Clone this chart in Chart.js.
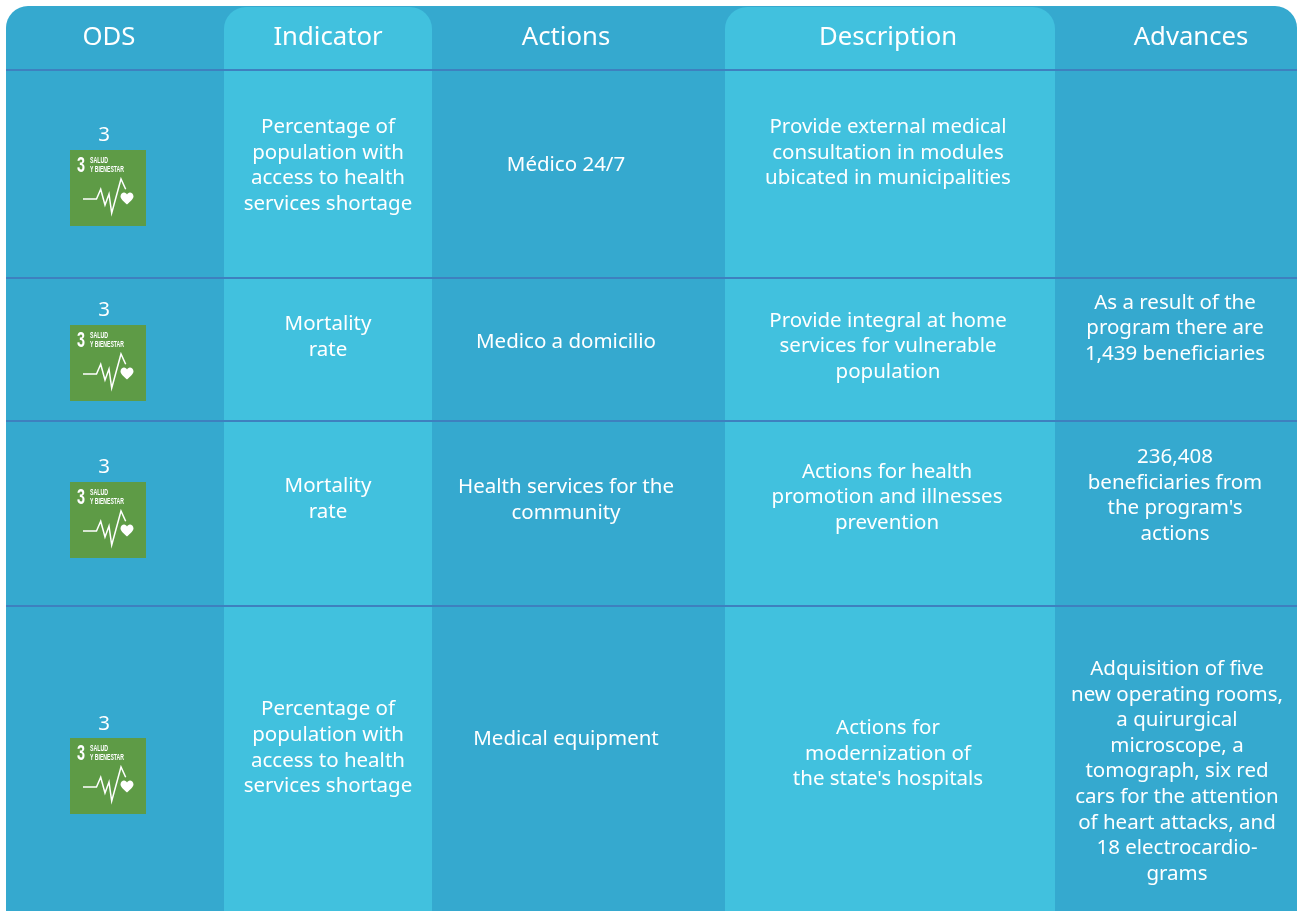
<!DOCTYPE html>
<html>
<head>
<meta charset="utf-8">
<title>ODS table</title>
<script src="https://cdn.jsdelivr.net/npm/chart.js@4"></script>
<style>
    html, body { margin: 0; padding: 0; background: #fff; overflow: hidden; }
    canvas { display: block; }
</style>
</head>
<body>
<canvas id="ods-chart" width="1297" height="911"></canvas>
<script>
// table content
const headers = ['ODS', 'Indicator', 'Actions', 'Description', 'Advances'];
const odsGoals = ['3', '3', '3', '3'];
const indicators = [
    ['Percentage of', 'population with', 'access to health', 'services shortage'],
    ['Mortality', 'rate'],
    ['Mortality', 'rate'],
    ['Percentage of', 'population with', 'access to health', 'services shortage']
];
const actions = [
    ['Médico 24/7'],
    ['Medico a domicilio'],
    ['Health services for the', 'community'],
    ['Medical equipment']
];
const descriptions = [
    ['Provide external medical', 'consultation in modules', 'ubicated in municipalities'],
    ['Provide integral at home', 'services for vulnerable', 'population'],
    ['Actions for health', 'promotion and illnesses', 'prevention'],
    ['Actions for', 'modernization of', "the state's hospitals"]
];
const advances = [
    [],
    ['As a result of the', 'program there are', '1,439 beneficiaries'],
    ['236,408', 'beneficiaries from', "the program's", 'actions'],
    ['Adquisition of five', 'new operating rooms,', 'a quirurgical', 'microscope, a', 'tomograph, six red', 'cars for the attention', 'of heart attacks, and', '18 electrocardio-', 'grams']
];

// grid, in scale units
const columnEdges = [6, 224, 432, 725, 1055, 1297];
const rowEdges = [6, 70, 278, 421, 606, 911];
const headerX = [109, 328, 566, 888, 1191];
const headerY = 38;

// where each text block is centred
const goalX = 104;
const goalY = [135, 310, 467, 724];
const iconLeft = 70;
const iconTop = [150, 325, 482, 738];
const iconSize = 76;
const textColumns = [
    { lines: indicators,   x: [328, 328, 328, 328],     y: [165.5, 337, 499, 748] },
    { lines: actions,      x: [566, 566, 566, 566],     y: [165.5, 342.5, 500, 739.5] },
    { lines: descriptions, x: [888, 888, 887, 888],     y: [153, 346.5, 497.5, 754] },
    { lines: advances,     x: [1175, 1175, 1175, 1177], y: [0, 328.5, 495.5, 771.5] }
];

const BASE = '#35a9cf';
const BAND = '#41c1de';
const RULE = '#3e80bf';
const GREEN = '#5e9b46';
const FONT = '"Noto Sans", sans-serif';
const ICON_FONT = '"Liberation Sans Narrow", "Liberation Sans", sans-serif';
const LINE_HEIGHT = 25.6;

function drawIcon(c, x, y, s) {
    const u = s / 76;
    c.save();
    c.translate(x, y);
    c.scale(u, u);
    c.fillStyle = GREEN;
    c.fillRect(0, 0, 76, 76);
    c.fillStyle = '#fff';
    c.textAlign = 'left';
    c.textBaseline = 'alphabetic';
    c.font = 'bold 22px ' + ICON_FONT;
    c.fillText('3', 7, 22, 8);
    c.font = 'bold 9px ' + ICON_FONT;
    c.fillText('SALUD', 20, 12.5, 18);
    c.fillText('Y BIENESTAR', 20, 21.7, 34);
    // pulse line
    c.strokeStyle = '#fff';
    c.lineWidth = 1.5;
    c.lineJoin = 'miter';
    c.beginPath();
    c.moveTo(13, 49);
    c.lineTo(26.5, 49);
    c.lineTo(30.7, 39.3);
    c.lineTo(35, 55);
    c.lineTo(39, 44);
    c.lineTo(41.7, 63);
    c.lineTo(51, 29);
    c.lineTo(55.7, 39.3);
    c.stroke();
    // heart
    c.beginPath();
    c.moveTo(57, 54.5);
    c.bezierCurveTo(53, 51, 50.5, 48.5, 50.5, 46.5);
    c.bezierCurveTo(50.5, 44, 52.5, 42.5, 54, 42.5);
    c.bezierCurveTo(55.5, 42.5, 56.5, 43.5, 57, 44.5);
    c.bezierCurveTo(57.5, 43.5, 58.5, 42.5, 60, 42.5);
    c.bezierCurveTo(61.5, 42.5, 63.5, 44, 63.5, 46.5);
    c.bezierCurveTo(63.5, 48.5, 61, 51, 57, 54.5);
    c.fill();
    c.restore();
}

const tablePlugin = {
    id: 'odsTable',
    beforeDatasetsDraw(chart) {
        const c = chart.ctx;
        const sx = chart.scales.x;
        const sy = chart.scales.y;
        const left = sx.getPixelForValue(columnEdges[0]);
        const right = sx.getPixelForValue(columnEdges[5]);
        const top = sy.getPixelForValue(rowEdges[0]);
        const bottom = sy.getPixelForValue(rowEdges[5]);

        c.save();
        c.fillStyle = BASE;
        c.beginPath();
        c.roundRect(left, top, right - left, bottom - top, [22, 22, 0, 0]);
        c.fill();

        // the two lighter columns
        c.fillStyle = BAND;
        [1, 3].forEach(i => {
            const x0 = sx.getPixelForValue(columnEdges[i]);
            const x1 = sx.getPixelForValue(columnEdges[i + 1]);
            c.beginPath();
            c.roundRect(x0, top + 1, x1 - x0, bottom - top - 1, [22, 22, 0, 0]);
            c.fill();
        });
        c.restore();
    },
    afterDatasetsDraw(chart) {
        const c = chart.ctx;
        const sx = chart.scales.x;
        const sy = chart.scales.y;
        c.save();
        c.fillStyle = '#fff';
        c.textAlign = 'center';
        c.textBaseline = 'middle';

        c.font = '25.7px ' + FONT;
        headers.forEach((h, i) => c.fillText(h, sx.getPixelForValue(headerX[i]), sy.getPixelForValue(headerY)));

        c.font = '20.5px ' + FONT;
        odsGoals.forEach((g, i) => c.fillText(g, sx.getPixelForValue(goalX), sy.getPixelForValue(goalY[i])));
        textColumns.forEach(col => {
            col.lines.forEach((lines, r) => {
                const start = sy.getPixelForValue(col.y[r]) - (lines.length - 1) * LINE_HEIGHT / 2;
                lines.forEach((t, k) => c.fillText(t, sx.getPixelForValue(col.x[r]), start + k * LINE_HEIGHT));
            });
        });
        c.restore();

        iconTop.forEach(t => drawIcon(c, sx.getPixelForValue(iconLeft), sy.getPixelForValue(t), iconSize));
    }
};

// row rules, one line per edge below the top one
const ruleDatasets = rowEdges.slice(1, 5).map(edge => ({
    data: [{ x: columnEdges[0], y: edge }, { x: columnEdges[5], y: edge }],
    showLine: true,
    borderColor: RULE,
    borderWidth: 2,
    pointRadius: 0
}));

new Chart(document.getElementById('ods-chart').getContext('2d'), {
    type: 'scatter',
    data: { datasets: ruleDatasets },
    options: {
        responsive: false,
        animation: false,
        layout: { padding: 0 },
        plugins: { legend: { display: false }, tooltip: { enabled: false }, title: { display: false } },
        scales: {
            x: { type: 'linear', display: false, min: 0, max: 1297 },
            y: { type: 'linear', display: false, min: 0, max: 911, reverse: true }
        }
    },
    plugins: [tablePlugin]
});
</script>
</body>
</html>
